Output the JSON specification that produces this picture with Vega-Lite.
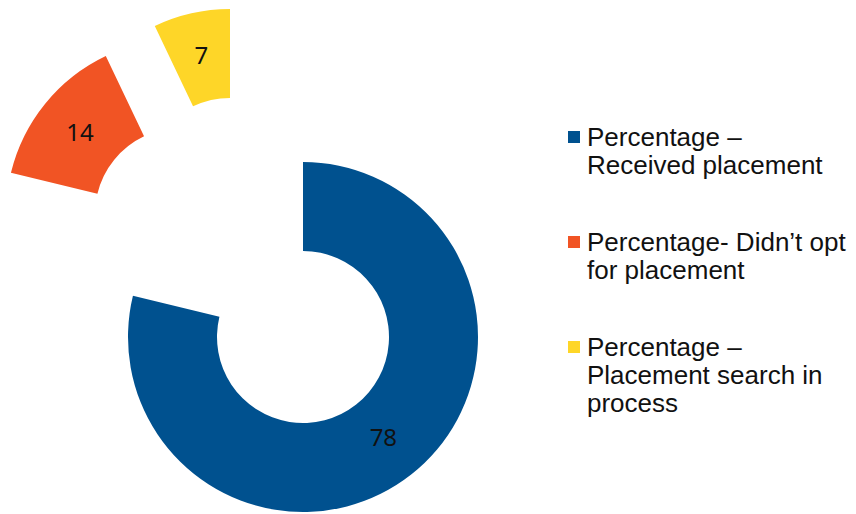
{
  "$schema": "https://vega.github.io/schema/vega-lite/v6.json",
  "width": 400,
  "height": 330,
  "autosize": "none",
  "padding": {"left": 103, "top": 172, "right": 353, "bottom": 12},
  "background": "white",
  "config": {"view": {"stroke": null}},
  "data": {
    "values": [
      {"cat": "Percentage – Received placement", "value": 78, "rank": 1},
      {"cat": "Percentage- Didn’t opt for placement", "value": 14, "rank": 2},
      {"cat": "Percentage – Placement search in process", "value": 7, "rank": 3}
    ]
  },
  "encoding": {
    "theta": {"field": "value", "type": "quantitative", "stack": true},
    "order": {"field": "rank", "type": "quantitative"}
  },
  "layer": [
    {
      "mark": {"type": "arc", "radius": 175, "radius2": 86},
      "encoding": {
        "color": {
          "field": "cat",
          "type": "nominal",
          "scale": {
            "domain": ["Percentage – Received placement", "Percentage- Didn’t opt for placement", "Percentage – Placement search in process"],
            "range": ["#00518F", "#F15424", "#FED628"]
          },
          "legend": {
            "title": null,
            "orient": "none",
            "legendX": 458,
            "legendY": -39,
            "symbolType": "M-1,-2.5H1V-0.5H-1Z",
            "symbolSize": 144,
            "symbolStrokeWidth": 0,
            "labelFont": "Liberation Sans",
            "labelFontSize": 26,
            "labelColor": "#111111",
            "labelOffset": 0,
            "labelLimit": 400,
            "labelBaseline": "alphabetic",
            "rowPadding": 51,
            "labelExpr": "datum.label == 'Percentage – Received placement' ? ['Percentage –', 'Received placement'] : (datum.label == 'Percentage- Didn’t opt for placement' ? ['Percentage- Didn’t opt', 'for placement'] : ['Percentage –', 'Placement search in', 'process'])"
          }
        },
        "opacity": {"condition": {"test": "datum.rank == 1", "value": 1}, "value": 0}
      }
    },
    {
      "mark": {"type": "arc", "radius": 175, "radius2": 86, "xOffset": -122, "yOffset": -123},
      "encoding": {
        "color": {"field": "cat", "type": "nominal"},
        "opacity": {"condition": {"test": "datum.rank == 2", "value": 1}, "value": 0}
      }
    },
    {
      "mark": {"type": "arc", "radius": 175, "radius2": 86, "xOffset": -73, "yOffset": -153},
      "encoding": {
        "color": {"field": "cat", "type": "nominal"},
        "opacity": {"condition": {"test": "datum.rank == 3", "value": 1}, "value": 0}
      }
    },
    {
      "mark": {"type": "text", "radius": 130, "font": "Noto Sans", "fontSize": 24, "color": "#111111"},
      "encoding": {
        "detail": {"field": "cat"},
        "text": {"condition": {"test": "datum.rank != 1", "value": ""}, "field": "value", "type": "quantitative"}
      }
    },
    {
      "mark": {"type": "text", "radius": 130, "font": "Noto Sans", "fontSize": 24, "color": "#111111", "xOffset": -122, "yOffset": -121},
      "encoding": {
        "detail": {"field": "cat"},
        "text": {"condition": {"test": "datum.rank != 2", "value": ""}, "field": "value", "type": "quantitative"}
      }
    },
    {
      "mark": {"type": "text", "radius": 130, "font": "Noto Sans", "fontSize": 24, "color": "#111111", "xOffset": -73, "yOffset": -153},
      "encoding": {
        "detail": {"field": "cat"},
        "text": {"condition": {"test": "datum.rank != 3", "value": ""}, "field": "value", "type": "quantitative"}
      }
    }
  ]
}
